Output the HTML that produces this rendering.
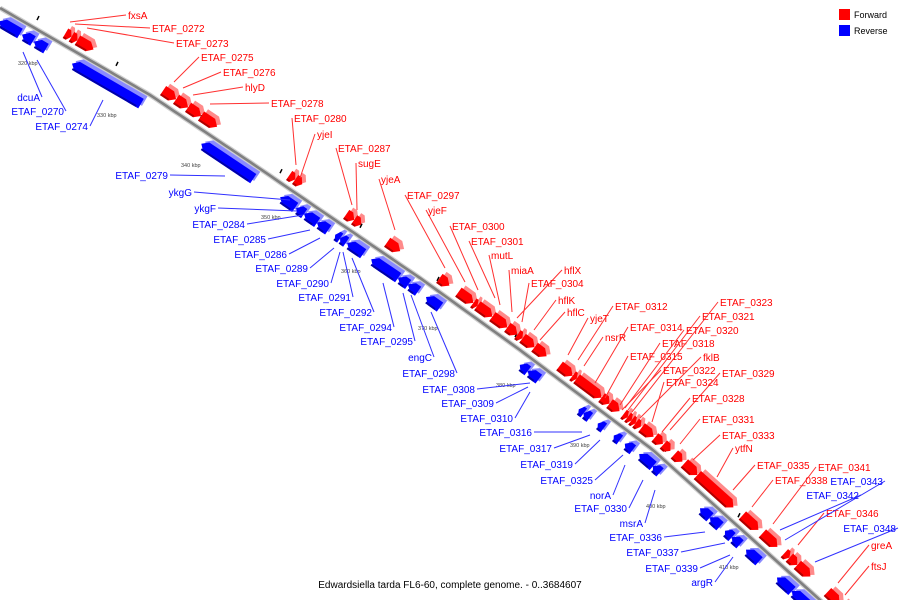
<!DOCTYPE html>
<html><head><meta charset="utf-8"><style>
html,body{margin:0;background:#fff;width:900px;height:600px;overflow:hidden}
svg{display:block;font-family:"Liberation Sans",sans-serif;overflow:hidden}
</style></head><body>
<svg id="map" width="900" height="600" viewBox="0 0 900 600" xmlns="http://www.w3.org/2000/svg">
<rect width="900" height="600" fill="#fff"/>
<g id="axis"></g>
<g id="genes"></g>
<g id="labels"></g>
<g>
<rect x="839" y="9" width="11" height="11" fill="#f00"/>
<text x="854" y="18" font-size="9" fill="#000">Forward</text>
<rect x="839" y="25" width="11" height="11" fill="#00f"/>
<text x="854" y="34" font-size="9" fill="#000">Reverse</text>
</g>
<text x="450" y="588" text-anchor="middle" font-size="10" fill="#000">Edwardsiella tarda FL6-60, complete genome. - 0..3684607</text>
</svg>
<script>
// axis path (screen points along the genome backbone)
const axisX=[0,150,250,420,520,653,820,850];
const axisYv=[8,95,162,278,350,450,600,628];
// kbp tick labels
const kbpLabels=["320 kbp","330 kbp","340 kbp","350 kbp","360 kbp","370 kbp","380 kbp","390 kbp","400 kbp","410 kbp"];
const kbpX=[18,97,181,261,341,418,496,570,646,719];
const kbpY=[65,117,167,219,273,330,387,447,508,569];
// genes: start / end position along axis (x), strand (1 fwd, -1 rev)
const geneStart=[5,28,40,78,208,287,303,311,324,342,347,354,378,405,415,433,527,535,586,591,605,621,632,647,661,708,718,733,740,754,785,800,
60,66,72,157,170,182,195,283,289,340,348,381,433,452,467,471,486,501,511,516,528,553,566,570,595,603,617,621,625,629,635,648,656,667,677,690,735,755,777,782,790,820,833];
const geneEnd=[26,39,52,147,260,302,311,324,335,347,353,370,405,415,425,447,535,546,591,597,611,627,640,661,668,718,728,740,748,767,800,817,
66,72,88,170,182,195,211,289,296,348,355,394,443,467,471,486,501,511,516,528,540,566,570,595,603,613,621,625,629,634,647,656,663,675,690,726,751,770,782,790,803,832,843];
const geneStrand=[-1,-1,-1,-1,-1,-1,-1,-1,-1,-1,-1,-1,-1,-1,-1,-1,-1,-1,-1,-1,-1,-1,-1,-1,-1,-1,-1,-1,-1,-1,-1,-1,
1,1,1,1,1,1,1,1,1,1,1,1,1,1,1,1,1,1,1,1,1,1,1,1,1,1,1,1,1,1,1,1,1,1,1,1,1,1,1,1,1,1,1];
// labels
const labelText=["fxsA","ETAF_0272","ETAF_0273","ETAF_0275","ETAF_0276","hlyD","ETAF_0278","ETAF_0280","yjeI","ETAF_0287","sugE","yjeA","ETAF_0297","yjeF","ETAF_0300","ETAF_0301","mutL","miaA","hflX","ETAF_0304","hflK","hflC","yjeT","ETAF_0312","nsrR","ETAF_0314","ETAF_0315","ETAF_0318","ETAF_0320","ETAF_0321","ETAF_0323","fklB","ETAF_0322","ETAF_0324","ETAF_0329","ETAF_0328","ETAF_0331","ETAF_0333","ytfN","ETAF_0335","ETAF_0338","ETAF_0341","ETAF_0346","greA","ftsJ",
"dcuA","ETAF_0270","ETAF_0274","ETAF_0279","ykgG","ykgF","ETAF_0284","ETAF_0285","ETAF_0286","ETAF_0289","ETAF_0290","ETAF_0291","ETAF_0292","ETAF_0294","ETAF_0295","engC","ETAF_0298","ETAF_0308","ETAF_0309","ETAF_0310","ETAF_0316","ETAF_0317","ETAF_0319","ETAF_0325","norA","ETAF_0330","msrA","ETAF_0336","ETAF_0337","ETAF_0339","argR","ETAF_0342","ETAF_0343","ETAF_0348"];
const labelX=[128,152,176,201,223,245,271,294,317,338,358,381,407,428,452,471,491,511,564,531,558,567,590,615,605,630,630,662,686,702,720,703,663,666,722,692,702,722,735,757,775,818,826,871,871,
40,64,88,168,192,216,245,266,287,308,329,351,372,392,413,432,455,475,494,513,532,552,573,593,611,627,643,662,679,698,713,859,883,896];
const labelY=[19,32,47,61,76,91,107,122,138,152,167,183,199,214,230,245,259,274,274,287,304,316,322,310,341,331,360,347,334,320,306,361,374,386,377,402,423,439,452,469,484,471,517,549,570,
101,115,130,179,196,212,228,243,258,272,287,301,316,331,345,361,377,393,407,422,436,452,468,484,499,512,527,541,556,572,586,499,485,532];
const targetX=[70,75,87,174,183,193,210,296,300,352,357,395,445,465,478,495,500,512,517,522,534,540,568,578,584,595,605,620,625,628,632,640,622,652,670,662,680,693,717,733,752,773,798,838,845,
23,37,103,225,290,297,303,310,320,334,340,343,352,383,403,411,431,530,528,530,582,590,600,623,625,643,655,705,725,730,733,780,785,815];
const targetY=[22,24,28,82,88,95,104,165,178,205,210,230,268,282,290,298,305,312,318,322,330,340,355,360,366,383,398,405,408,410,412,418,410,422,430,432,444,460,477,490,507,524,545,583,595,
52,60,100,176,200,211,215,230,238,248,252,252,258,283,293,295,312,383,387,392,432,435,440,455,465,480,490,532,543,555,557,530,540,562];

const NS="http://www.w3.org/2000/svg";
function lineY(x){
  for(let i=0;i<axisX.length-1;i++){
    if(x<=axisX[i+1]||i===axisX.length-2){
      const t=(x-axisX[i])/(axisX[i+1]-axisX[i]);
      return axisYv[i]+t*(axisYv[i+1]-axisYv[i]);
    }
  }
}
function slope(x){return (lineY(x+3)-lineY(x-3))/6;}
function mk(tag,attrs,parent){const e=document.createElementNS(NS,tag);for(const k in attrs)e.setAttribute(k,attrs[k]);parent.appendChild(e);return e;}

const axisG=document.getElementById('axis');
let d="";
for(let x=0;x<=845;x+=5){d+=(x===0?"M":"L")+x+","+lineY(x).toFixed(1);}
const sh=mk('path',{d:d,fill:'none',stroke:'#d0d0d0','stroke-width':5},axisG);


const ax=mk('path',{d:d,fill:'none',stroke:'#808080','stroke-width':2.6},axisG);


for(let i=0;i<kbpLabels.length;i++){
  const t=mk('text',{x:kbpX[i],y:kbpY[i],'font-size':5.5,fill:'#444'},axisG);
  t.textContent=kbpLabels[i];
  
  
  const tx=kbpX[i]+20, ty=lineY(tx)-12;
  const m=mk('line',{x1:tx-1,y1:ty+2,x2:tx+1,y2:ty-2,stroke:'#000','stroke-width':1.5},axisG);
  
  
}

const genesG=document.getElementById('genes');
for(let i=0;i<geneStart.length;i++){
  const fwd=geneStrand[i]>0;
  const xc=(geneStart[i]+geneEnd[i])/2;
  const s=slope(xc);
  const ang=Math.atan(s)*180/Math.PI;
  const norm=Math.sqrt(1+s*s);
  const L=(geneEnd[i]-geneStart[i])*norm;
  const off=fwd?-11:12;
  const nx=-s/norm, ny=1/norm;
  const cx=xc+nx*off, cy=lineY(xc)+ny*off;
  const g=mk('g',{transform:`translate(${cx.toFixed(1)},${cy.toFixed(1)}) rotate(${ang.toFixed(2)})`},genesG);
  
  
  const h=11, a=Math.min(6,L*0.5), hl=L/2;
  let pts;
  if(fwd) pts=[[-hl,-h/2],[hl-a,-h/2],[hl,0],[hl-a,h/2],[-hl,h/2]];
  else pts=[[-hl+a,-h/2],[hl,-h/2],[hl,h/2],[-hl+a,h/2],[-hl,0]];
  const top=pts.map(p=>[p[0]+2,p[1]-4]);
  mk('polygon',{points:top.map(p=>p.join(',')).join(' '),fill:fwd?'#ff8a8a':'#8a8aff'},g);
  mk('polygon',{points:pts.map(p=>p.join(',')).join(' '),fill:fwd?'#f00':'#00f'},g);
  mk('rect',{x:-hl+ (fwd?0:a*0.5),y:h/2-2,width:Math.max(0,L-a),height:2,fill:fwd?'#b00000':'#0000a8'},g);
}

const labG=document.getElementById('labels');
for(let i=0;i<labelText.length;i++){
  const fwd=i<45;
  const col=fwd?'#f00':'#00f';
  const lx=fwd?labelX[i]-2:labelX[i]+2;
  const ly=labelY[i]-4;
  const ln=mk('line',{x1:lx,y1:ly,x2:targetX[i],y2:targetY[i],stroke:fwd?'#ff3030':'#3030ff','stroke-width':1},labG);
  
  
  const t=mk('text',{x:labelX[i],y:labelY[i],'font-size':10,fill:col,'text-anchor':fwd?'start':'end'},labG);
  t.textContent=labelText[i];
  
  
}
</script>
</body></html>
